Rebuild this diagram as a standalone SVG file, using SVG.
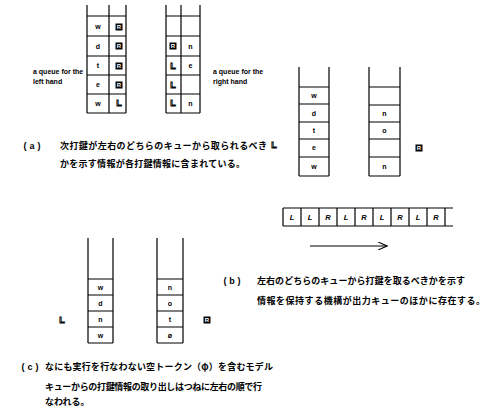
<svg xmlns="http://www.w3.org/2000/svg" xmlns:xlink="http://www.w3.org/1999/xlink" width="486" height="415" viewBox="0 0 486 415">
<style>
.ln{stroke:#000;stroke-width:1.2;fill:none}
.ch{font-family:"Liberation Sans",Arial,sans-serif;font-size:7px;font-weight:bold;text-anchor:middle;fill:#000}
.lab{font-family:"Liberation Sans",Arial,sans-serif;font-size:7px;font-weight:bold;fill:#000}
.jp{font-family:"Noto Sans CJK JP","Noto Sans CJK SC",sans-serif;font-size:9px;font-weight:bold;fill:#000}
.pr{font-family:"Liberation Sans",Arial,sans-serif;font-size:9px;font-weight:bold;text-anchor:middle;fill:#000}
.tp{font-family:"Liberation Sans",Arial,sans-serif;font-size:7.5px;font-weight:bold;font-style:italic;text-anchor:middle;fill:#000}
.ls{font-family:"Liberation Sans",Arial,sans-serif;font-size:9px;font-weight:900;text-anchor:middle;fill:#fff;stroke:#000;stroke-width:0.9}
.rt{font-family:"Liberation Sans",Arial,sans-serif;font-size:6px;font-weight:bold;text-anchor:middle;fill:#fff}
</style>
<defs>
<g id="R"><rect x="-3.5" y="-3.5" width="7" height="7" fill="#000"/><text class="rt" x="0" y="2.2">R</text></g>
<g id="L"><text class="ls" x="0" y="3.3">L</text></g>
<marker id="ah" markerWidth="10" markerHeight="8" refX="9" refY="4" orient="auto" markerUnits="userSpaceOnUse"><path d="M0,0 L9,4 L0,8" fill="none" stroke="#000" stroke-width="1.1"/></marker>
</defs>

<!-- (a) top-left queues -->
<g id="queue-left-a">
<path class="ln" d="M87,5 V113 M109,5 V113 M126,5 V113 M87,16 H126 M87,36 H126 M87,56 H126 M87,75 H126 M87,94 H126 M87,113 H126"/>
<text class="ch" x="98" y="29">w</text><text class="ch" x="98" y="49">d</text><text class="ch" x="98" y="68">t</text><text class="ch" x="98" y="87">e</text><text class="ch" x="98" y="106">w</text>
<use xlink:href="#R" x="119" y="27"/><use xlink:href="#R" x="119" y="46"/><use xlink:href="#R" x="119" y="66"/><use xlink:href="#R" x="119" y="85"/><use xlink:href="#L" x="119" y="103"/>
</g>
<g id="queue-right-a">
<path class="ln" d="M166,5 V113 M181,5 V113 M200,5 V113 M166,16 H200 M166,36 H200 M166,56 H200 M166,75 H200 M166,94 H200 M166,113 H200"/>
<use xlink:href="#R" x="173" y="46"/><use xlink:href="#L" x="173" y="66"/><use xlink:href="#L" x="173" y="85"/><use xlink:href="#L" x="173" y="103"/>
<text class="ch" x="190.5" y="49">n</text><text class="ch" x="190.5" y="68">e</text><text class="ch" x="190.5" y="106">n</text>
</g>
<g id="label-left"><text class="lab" x="33" y="74">a queue for the</text><text class="lab" x="33" y="84">left hand</text></g>
<g id="label-right"><text class="lab" x="213" y="74">a queue for the</text><text class="lab" x="213" y="84">right hand</text></g>
<g id="caption-a">
<text class="pr" x="25" y="149">(</text><text class="pr" x="32" y="149">a</text><text class="pr" x="39" y="149">)</text>
<text class="jp" x="60" y="149" textLength="207">次打鍵が左右のどちらのキューから取られるべき</text>
<use xlink:href="#L" x="274" y="145"/>
<text class="jp" x="60" y="167" textLength="185">かを示す情報が各打鍵情報に含まれている。</text>
</g>

<!-- (b) -->
<g id="queue-left-b">
<path class="ln" d="M299,67 V176 M329,67 V176 M299,87 H329 M299,104 H329 M299,122 H329 M299,139 H329 M299,157 H329 M299,176 H329"/>
<text class="ch" x="314" y="98">w</text><text class="ch" x="314" y="116">d</text><text class="ch" x="314" y="133">t</text><text class="ch" x="314" y="150">e</text><text class="ch" x="314" y="169">w</text>
</g>
<g id="queue-right-b">
<path class="ln" d="M369,67 V176 M400,67 V176 M369,87 H400 M369,105 H400 M369,122 H400 M369,139 H400 M369,157 H400 M369,176 H400"/>
<text class="ch" x="384.5" y="116">n</text><text class="ch" x="384.5" y="133">o</text><text class="ch" x="384.5" y="169">n</text>
</g>
<g id="state-b"><use xlink:href="#R" x="419" y="148"/></g>
<g id="tape">
<path class="ln" d="M283,208 H453 M283,226 H453 M283,208 V226 M301,208 V226 M319,208 V226 M337,208 V226 M355,208 V226 M373,208 V226 M391,208 V226 M409,208 V226 M427,208 V226 M445,208 V226"/>
<text class="tp" x="292" y="220">L</text><text class="tp" x="310" y="220">L</text><text class="tp" x="328" y="220">R</text><text class="tp" x="346" y="220">L</text><text class="tp" x="364" y="220">R</text><text class="tp" x="382" y="220">L</text><text class="tp" x="400" y="220">R</text><text class="tp" x="418" y="220">L</text><text class="tp" x="436" y="220">R</text>
</g>
<g id="connectors">
<line class="ln" x1="310" y1="246" x2="387" y2="246" marker-end="url(#ah)"/>
</g>
<g id="caption-b">
<text class="pr" x="225" y="284">(</text><text class="pr" x="232" y="284">b</text><text class="pr" x="239" y="284">)</text>
<text class="jp" x="257" y="284" textLength="208">左右のどちらのキューから打鍵を取るべきかを示す</text>
<text class="jp" x="257" y="304" textLength="228">情報を保持する機構が出力キューのほかに存在する。</text>
</g>

<!-- (c) -->
<g id="queue-left-c">
<path class="ln" d="M88,238 V343 M113,238 V343 M88,279 H113 M88,295 H113 M88,311 H113 M88,327 H113 M88,343 H113"/>
<text class="ch" x="100.5" y="289.5">w</text><text class="ch" x="100.5" y="305.5">d</text><text class="ch" x="100.5" y="321.5">n</text><text class="ch" x="100.5" y="337.5">w</text>
</g>
<g id="queue-right-c">
<path class="ln" d="M157,238 V343 M183,238 V343 M157,279 H183 M157,295 H183 M157,311 H183 M157,327 H183 M157,343 H183"/>
<text class="ch" x="170" y="289.5">n</text><text class="ch" x="170" y="305.5">o</text><text class="ch" x="170" y="321.5">t</text><text class="ch" x="170" y="337.5">ø</text>
</g>
<g id="state-c-left"><use xlink:href="#L" x="62" y="320"/></g>
<g id="state-c-right"><use xlink:href="#R" x="207" y="320"/></g>
<g id="caption-c">
<text class="pr" x="23" y="370">(</text><text class="pr" x="30" y="370">c</text><text class="pr" x="37" y="370">)</text>
<text class="jp" x="45" y="370" textLength="228">なにも実行を行なわない空トークン（φ）を含むモデル</text>
<text class="jp" x="45" y="390" textLength="217">キューからの打鍵情報の取り出しはつねに左右の順で行</text>
<text class="jp" x="45" y="405">なわれる。</text>
</g>
</svg>
